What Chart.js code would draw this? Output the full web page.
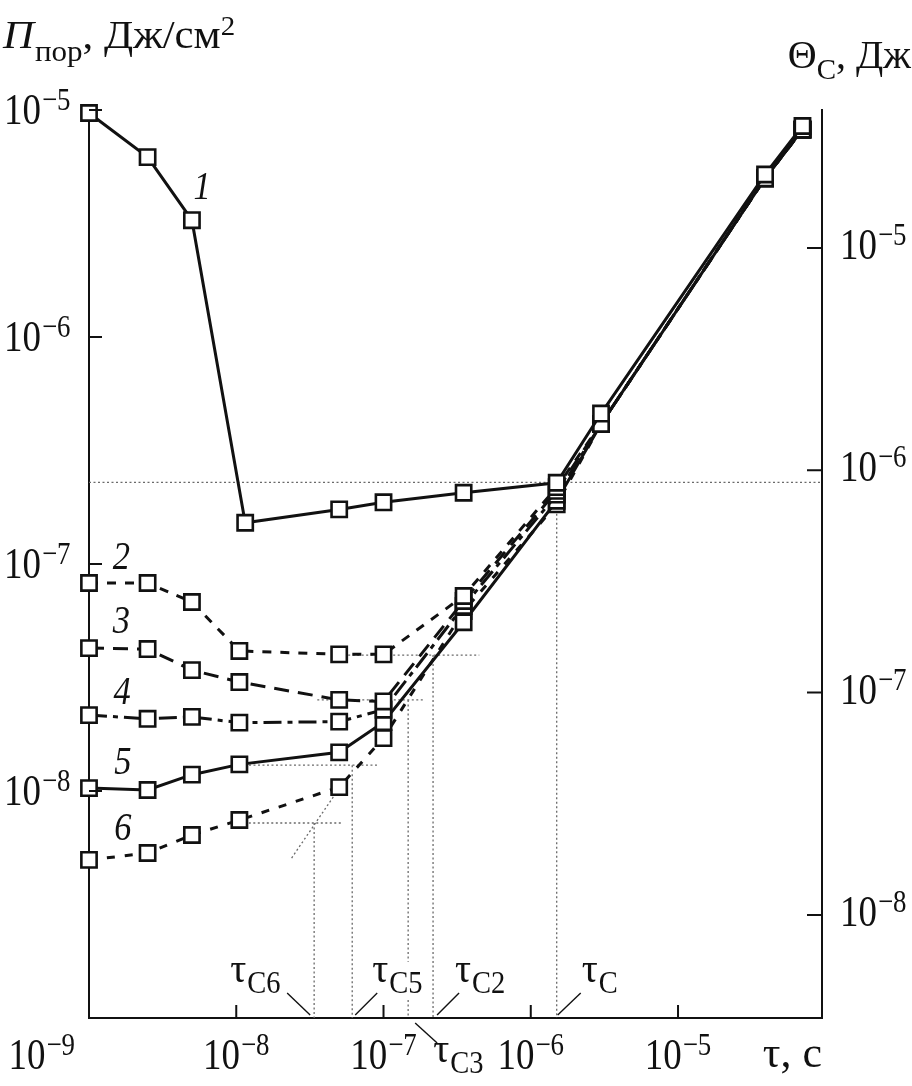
<!DOCTYPE html>
<html>
<head>
<meta charset="utf-8">
<script src="https://cdn.jsdelivr.net/npm/chart.js@4.4.1/dist/chart.umd.min.js"></script>
<style>
  html, body { margin: 0; padding: 0; background: #fff; }
  #wrap { width: 912px; height: 1086px; }
</style>
</head>
<body>
<div id="wrap"><canvas id="chart" width="912" height="1086"></canvas></div>
<script>
// ===========================
// Data
// ===========================
const tau1 = [1e-9, 2.5e-9, 5e-9, 1.15e-8, 5e-8, 1e-7, 3.5e-7, 1.5e-6, 3e-6, 3.9e-5, 7e-5];
const tauN = [1e-9, 2.5e-9, 5e-9, 1.05e-8, 5e-8, 1e-7, 3.5e-7, 1.5e-6, 3e-6, 3.9e-5, 7e-5];

const curve1 = [9.7e-6, 6.2e-6, 3.27e-6, 1.52e-7, 1.74e-7, 1.87e-7, 2.06e-7, 2.28e-7, 4.6e-7, 5.2e-6, 8.5e-6];
const curve2 = [8.25e-8, 8.25e-8, 6.8e-8, 4.14e-8, 4.0e-8, 4.0e-8, 7.23e-8, 2.18e-7, 4.14e-7, 5.0e-6, 8.2e-6];
const curve3 = [4.26e-8, 4.22e-8, 3.41e-8, 3.02e-8, 2.52e-8, 2.48e-8, 6.87e-8, 2.10e-7, 4.14e-7, 5.0e-6, 8.2e-6];
const curve4 = [2.16e-8, 2.08e-8, 2.12e-8, 2.0e-8, 2.02e-8, 2.28e-8, 6.53e-8, 2.02e-7, 4.14e-7, 5.0e-6, 8.2e-6];
const curve5 = [1.03e-8, 1.01e-8, 1.18e-8, 1.31e-8, 1.48e-8, 2.01e-8, 5.54e-8, 1.9e-7, 4.14e-7, 5.0e-6, 8.2e-6];
const curve6 = [4.97e-9, 5.33e-9, 6.4e-9, 7.45e-9, 1.04e-8, 1.71e-8, 6.2e-8, 1.83e-7, 4.14e-7, 5.0e-6, 8.2e-6];

const curveNames = ['1', '2', '3', '4', '5', '6'];
const nameTau = [5.87e-9, 1.66e-9, 1.66e-9, 1.68e-9, 1.7e-9, 1.7e-9];
const nameVal = [4.68e-6, 1.1e-7, 5.73e-8, 2.79e-8, 1.37e-8, 7.02e-9];

// horizontal guides (threshold levels)
const hLevel = [2.29e-7, 3.97e-8, 2.52e-8, 1.30e-8, 7.23e-9];
const hFrom  = [1e-9, 5e-8, 3.55e-8, 1.06e-8, 9.85e-9];
const hTo    = [9.5e-5, 4.47e-7, 1.92e-7, 9.35e-8, 5.25e-8];

// vertical guides: critical durations
const tauNames = ['C', 'C2', 'C3', 'C5', 'C6'];
const tauCrit  = [1.5e-6, 2.17e-7, 1.47e-7, 6.13e-8, 3.38e-8];
const c3Gap = [1.77e-9, 1.2e-9];

// slanted guide for curve 6
const slantTau = [4.56e-8, 2.33e-8];
const slantVal = [9.42e-9, 4.97e-9];

const xTickPowers = [-9, -8, -7, -6, -5];
const leftTickPowers = [-8, -7, -6, -5];
const rightTickPowers = [-8, -7, -6, -5];

// ===========================
// Styles
// ===========================
const INK = '#111111';
const GUIDE = '#6a6a6a';
const SERIF = '"Liberation Serif", "DejaVu Serif", serif';
const SX = 0.84;   // tick labels are horizontally condensed in the figure

const curves = [curve1, curve2, curve3, curve4, curve5, curve6];
const dashes = [[], [9, 9], [15, 9], [18, 6, 5, 6], [], [8, 10]];

function pts(xs, ys) { return xs.map((x, i) => ({ x, y: ys[i] })); }

const datasets = curves.map((c, i) => ({
  data: pts(i === 0 ? tau1 : tauN, c),
  borderColor: INK,
  borderWidth: 3,
  borderDash: dashes[i],
  pointStyle: 'rect',
  pointRadius: 10.8,
  pointBorderWidth: 2.6,
  pointBackgroundColor: '#fff',
  pointBorderColor: INK,
  tension: 0,
  clip: false,
  order: i
}));

function guide(data) {
  return {
    data, borderColor: GUIDE, borderWidth: 1.3, borderDash: [2, 2.5],
    pointRadius: 0, tension: 0, clip: false, order: 20, spanGaps: false
  };
}

hLevel.forEach((lv, i) => datasets.push(guide([{ x: hFrom[i], y: lv }, { x: hTo[i], y: lv }])));
tauCrit.forEach((t, i) => {
  const lv = hLevel[i];
  if (tauNames[i] === 'C3') {
    datasets.push(guide([{ x: t, y: lv }, { x: t, y: c3Gap[0] }, { x: t, y: null }, { x: t, y: c3Gap[1] }, { x: t, y: 1e-9 }]));
  } else {
    datasets.push(guide([{ x: t, y: lv }, { x: t, y: 1e-9 }]));
  }
});
datasets.push(guide(pts(slantTau, slantVal)));

// ===========================
// Text helpers
// ===========================
function font(size, italic) { return (italic ? 'italic ' : '') + size + 'px ' + SERIF; }
function textW(ctx, s, f, sx) { ctx.font = f; return ctx.measureText(s).width * sx; }
function put(ctx, s, x, y, f, sx) {
  ctx.save();
  ctx.font = f;
  ctx.textAlign = 'left';
  ctx.textBaseline = 'alphabetic';
  ctx.translate(x, y);
  ctx.scale(sx, 1);
  ctx.fillText(s, 0, 0);
  ctx.restore();
  return textW(ctx, s, f, sx);
}
function drawPow(ctx, p, x, y, align) {
  const fb = font(44), fe = font(32);
  const base = '10', ex = '\u2212' + Math.abs(p);
  const total = textW(ctx, base, fb, SX) + textW(ctx, ex, fe, SX) + 1;
  let start = x;
  if (align === 'center') start = x - total / 2;
  if (align === 'right') start = x - total;
  const w1 = put(ctx, base, start, y, fb, SX);
  put(ctx, ex, start + w1 + 1, y - 14, fe, SX);
}

// ===========================
// Overlay: ticks, labels, titles
// ===========================
const overlay = {
  id: 'overlay',
  afterDraw(chart) {
    const { ctx, chartArea: a, scales } = chart;
    const sx = scales.x, sy = scales.y, sr = scales.y2;
    ctx.save();
    ctx.strokeStyle = INK;
    ctx.fillStyle = INK;
    ctx.lineWidth = 2;

    // inward tick marks
    ctx.beginPath();
    xTickPowers.slice(1).forEach(p => {
      const px = sx.getPixelForValue(Math.pow(10, p));
      ctx.moveTo(px, a.bottom); ctx.lineTo(px, a.bottom - 13);
    });
    leftTickPowers.forEach(p => {
      const py = sy.getPixelForValue(Math.pow(10, p));
      ctx.moveTo(a.left, py); ctx.lineTo(a.left + 13, py);
    });
    rightTickPowers.forEach(p => {
      const py = sr.getPixelForValue(Math.pow(10, p));
      ctx.moveTo(a.right, py); ctx.lineTo(a.right - 15, py);
    });
    ctx.stroke();

    // tick labels
    xTickPowers.forEach((p, i) => {
      if (i === 0) drawPow(ctx, p, 75, 1069, 'right');
      else drawPow(ctx, p, sx.getPixelForValue(Math.pow(10, p)), 1069, 'center');
    });
    leftTickPowers.forEach(p => drawPow(ctx, p, 4, sy.getPixelForValue(Math.pow(10, p)) + 14, 'left'));
    rightTickPowers.forEach(p => drawPow(ctx, p, 840, sr.getPixelForValue(Math.pow(10, p)) + 11, 'left'));

    // axis titles
    let x = 3;
    x += put(ctx, '\u041F', x, 48, font(40, true), 1.07);
    x += put(ctx, '\u043F\u043E\u0440', x + 1, 61, font(29), 1.07);
    x += put(ctx, ', \u0414\u0436/\u0441\u043C', x + 1, 48, font(40), 1.07);
    put(ctx, '2', x + 1, 35, font(27), 1.07);

    const thW = textW(ctx, '\u0398', font(40), 1.0) + textW(ctx, 'C', font(29), 1.0) +
      textW(ctx, ', \u0414\u0436', font(40), 1.0);
    x = 911 - thW;
    x += put(ctx, '\u0398', x, 68, font(40), 1.0);
    x += put(ctx, 'C', x, 79, font(29), 1.0);
    put(ctx, ', \u0414\u0436', x, 68, font(40), 1.0);

    const tw = textW(ctx, '\u03C4, \u0441', font(44), 1.0);
    put(ctx, '\u03C4, \u0441', a.right - tw, 1067, font(44), 1.0);

    // curve numbers
    curveNames.forEach((n, i) => {
      const px = sx.getPixelForValue(nameTau[i]);
      const py = sy.getPixelForValue(nameVal[i]);
      const f = font(41, true);
      const w = textW(ctx, n, f, SX);
      put(ctx, n, px - w / 2, py + 14, f, SX);
    });

    // critical duration labels with leader lines
    const lab = {
      C6: { dx: -84, ty: 982, l: [-27, 993, -4, 1015] },
      C5: { dx: 20, ty: 982, l: [3, 1015, 25, 993] },
      C2: { dx: 22, ty: 982, l: [4, 1015, 26, 993] },
      C:  { dx: 25, ty: 982, l: [1, 1015, 24, 993] },
      C3: { dx: 25, ty: 1062, l: [7, 1023, 29, 1043] }
    };
    ctx.lineWidth = 1.4;
    tauNames.forEach((nm, i) => {
      const px = sx.getPixelForValue(tauCrit[i]);
      const L = lab[nm];
      const w = put(ctx, '\u03C4', px + L.dx, L.ty, font(42), 0.95);
      put(ctx, nm, px + L.dx + w + 1, L.ty + 11, font(31), 0.92);
      ctx.beginPath();
      ctx.moveTo(px + L.l[0], L.l[1]);
      ctx.lineTo(px + L.l[2], L.l[3]);
      ctx.stroke();
    });
    ctx.restore();
  }
};

// ===========================
// Chart
// ===========================
const axisBorder = { display: true, color: INK, width: 2 };

new Chart(document.getElementById('chart').getContext('2d'), {
  type: 'line',
  data: { datasets },
  options: {
    responsive: false,
    devicePixelRatio: 1,
    animation: false,
    layout: { padding: { top: 110, left: 0, right: 0, bottom: 0 } },
    plugins: { legend: { display: false }, tooltip: { enabled: false } },
    scales: {
      x: {
        type: 'logarithmic', min: 1e-9, max: 9.5e-5,
        grid: { display: false }, border: axisBorder, ticks: { display: false },
        afterFit(s) { s.height = 68; }
      },
      y: {
        type: 'logarithmic', position: 'left', min: 1e-9, max: 1e-5,
        grid: { display: false }, border: axisBorder, ticks: { display: false },
        afterFit(s) { s.width = 89; }
      },
      y2: {
        type: 'logarithmic', position: 'right', min: 3.44e-9, max: 4.17e-5,
        grid: { display: false }, border: axisBorder, ticks: { display: false },
        afterFit(s) { s.width = 90; }
      }
    }
  },
  plugins: [overlay]
});
</script>
</body>
</html>
